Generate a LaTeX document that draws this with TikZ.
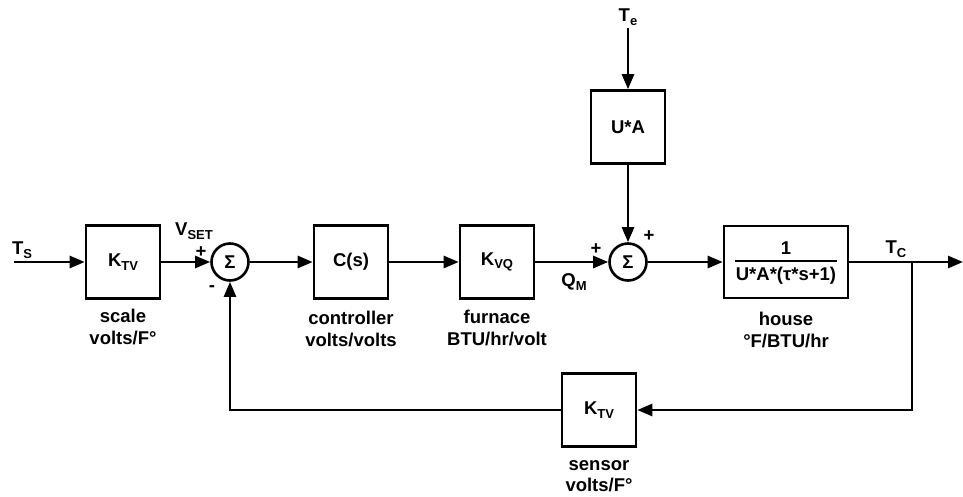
\documentclass[tikz,border=0pt]{standalone}
\usepackage{fontspec}
\setmainfont{Liberation Sans}
\usetikzlibrary{arrows.meta}
\newcommand{\lowsub}[1]{\raisebox{-0.35ex}{\fontsize{13}{13}\selectfont #1}}
\begin{document}
\begin{tikzpicture}[x=1pt,y=-1pt,
  blk/.style={draw, line width=2.6pt, minimum width=74pt, minimum height=73pt, inner sep=0pt, font=\bfseries\fontsize{18.5}{18.5}\selectfont},
  sumc/.style={draw, circle, line width=2.6pt, minimum size=37pt, inner sep=0pt, font=\bfseries\fontsize{18.5}{18.5}\selectfont},
  lbl/.style={font=\bfseries\fontsize{18.5}{21.5}\selectfont, align=center, inner sep=0pt},
  sig/.style={line width=2.6pt, -{Triangle[length=15pt,width=12pt]}},
  wire/.style={line width=2.6pt}]
\useasboundingbox (0,0) rectangle (963,497);
% blocks
\node[blk] (scale) at (123,262) {K\lowsub{TV}};
\node[sumc] (s1) at (230,262) {Σ};
\node[blk] (ctrl) at (351,262) {C(s)};
\node[blk] (furn) at (497,262) {K\lowsub{VQ}};
\node[sumc] (s2) at (628,262) {Σ};
\node[blk] (ua) at (628,127) {U*A};
\node[blk, minimum width=124pt, minimum height=72pt] (house) at (786,262) {};
\node[lbl] (hnum) at (786,248) {1};
\node[lbl] (hden) at (786,276) {U*A*(τ*s+1)};
\coordinate (hl1) at (735,261);
\coordinate (hl2) at (837,261);
\draw[line width=2.2pt] (hl1) -- (hl2);
\node[blk] (sensor) at (599,410) {K\lowsub{TV}};
% free ends
\coordinate (ts) at (14,262);
\coordinate (te) at (628,28);
\coordinate (out) at (963,262);
\coordinate (br) at (912,262);
% connectors
\draw[sig] (ts) -- (scale);
\draw[sig] (scale) -- (s1);
\draw[sig] (s1) -- (ctrl);
\draw[sig] (ctrl) -- (furn);
\draw[sig] (furn) -- (s2);
\draw[sig] (te) -- (ua);
\draw[sig] (ua) -- (s2);
\draw[sig] (s2) -- (house);
\draw[sig] (house) -- (out);
\draw[sig] (br) |- (sensor);
\draw[sig] (sensor) -| (s1);
% signal labels
\node[lbl] (tsl) at (22,250) {T\lowsub{S}};
\node[lbl] (vset) at (194,231) {V\lowsub{SET}};
\node[lbl] (p1) at (201,252) {+};
\node[lbl] (m1) at (212,289) {-};
\node[lbl] (p2) at (596,249) {+};
\node[lbl] (p3) at (649,236) {+};
\node[lbl] (qm) at (574,282) {Q\lowsub{M}};
\node[lbl] (tel) at (628,17) {T\lowsub{e}};
\node[lbl] (tcl) at (896,249) {T\lowsub{C}};
% block captions
\node[lbl] (scalecap) at (123,327) {scale\\volts/F°};
\node[lbl] (ctrlcap) at (351,329) {controller\\volts/volts};
\node[lbl] (furncap) at (497,328) {furnace\\BTU/hr/volt};
\node[lbl] (housecap) at (786,330) {house\\°F/BTU/hr};
\node[lbl] (sensorcap) at (599,476) {sensor\\volts/F°};
\end{tikzpicture}
\end{document}
